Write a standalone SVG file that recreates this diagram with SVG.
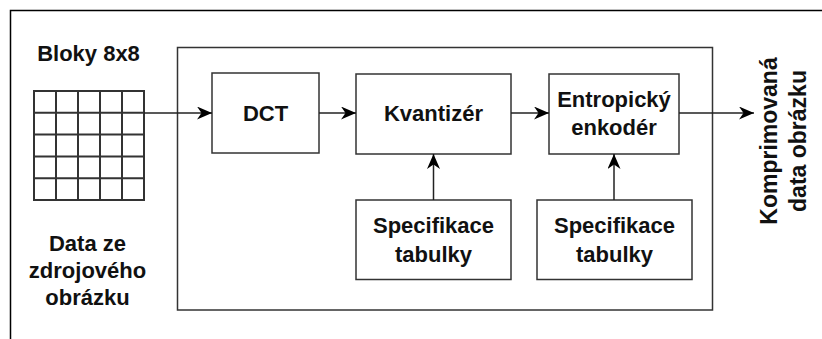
<svg xmlns="http://www.w3.org/2000/svg" width="822" height="339" viewBox="0 0 822 339">
<style>
  .box { fill: #ffffff; stroke: #333333; stroke-width: 1.5; }
  .frame { fill: none; stroke: #000000; stroke-width: 1.5; }
  .grid { fill: none; stroke: #333333; stroke-width: 2; }
  .lbl { font-family: "Liberation Sans", Arial, sans-serif; font-size: 22px; font-weight: bold; fill: #111111; text-anchor: middle; }
  .conn { fill: none; stroke: #222222; stroke-width: 1.5; marker-end: url(#arr); }
</style>
<defs>
  <marker id="arr" markerUnits="userSpaceOnUse" markerWidth="17" markerHeight="15" refX="15" refY="6.5" orient="auto">
    <path d="M0,0 L15,6.5 L0,13 L4.5,6.5 z" fill="#000000"/>
  </marker>
</defs>
<rect width="822" height="339" fill="#ffffff"/>
<path class="frame" d="M10.5,339 V10.5 H822"/>

<g id="source">
  <text class="lbl" x="88.5" y="61">Bloky 8x8</text>
  <g class="grid">
    <rect x="34" y="91" width="110" height="109"/>
    <path d="M56,91 V200 M78,91 V200 M100,91 V200 M122,91 V200 M34,112.8 H144 M34,134.6 H144 M34,156.4 H144 M34,178.2 H144"/>
  </g>
  <text class="lbl" x="87.5" y="251">Data ze</text>
  <text class="lbl" x="87.5" y="278">zdrojového</text>
  <text class="lbl" x="87.5" y="305">obrázku</text>
</g>

<g id="encoder">
  <rect class="box" x="177.5" y="47.5" width="535" height="262.5"/>
</g>

<g id="dct">
  <rect class="box" x="212" y="73" width="107" height="80"/>
  <text class="lbl" x="265.5" y="120.5">DCT</text>
</g>
<g id="kvantizer">
  <rect class="box" x="356" y="74" width="155" height="80"/>
  <text class="lbl" x="433.5" y="121">Kvantizér</text>
</g>
<g id="entropicky">
  <rect class="box" x="549" y="74" width="130" height="80"/>
  <text class="lbl" x="614" y="107">Entropický</text>
  <text class="lbl" x="614" y="135">enkodér</text>
</g>
<g id="spec1">
  <rect class="box" x="356" y="200" width="155" height="79.5"/>
  <text class="lbl" x="433.5" y="233">Specifikace</text>
  <text class="lbl" x="433.5" y="261.5">tabulky</text>
</g>
<g id="spec2">
  <rect class="box" x="537" y="200" width="155" height="79.5"/>
  <text class="lbl" x="614.5" y="233">Specifikace</text>
  <text class="lbl" x="614.5" y="261.5">tabulky</text>
</g>
<g id="output">
  <text class="lbl" transform="translate(777,141) rotate(-90)" style="font-size:23px">Komprimovaná</text>
  <text class="lbl" transform="translate(806,141) rotate(-90)" style="font-size:23px">data obrázku</text>
</g>

<g id="connectors">
  <path class="conn" d="M144,113 H212"/>
  <path class="conn" d="M319,113 H356"/>
  <path class="conn" d="M511,113 H549"/>
  <path class="conn" d="M679,113 H754"/>
  <path class="conn" d="M433.5,200 V154"/>
  <path class="conn" d="M614,200 V154"/>
</g>
</svg>
